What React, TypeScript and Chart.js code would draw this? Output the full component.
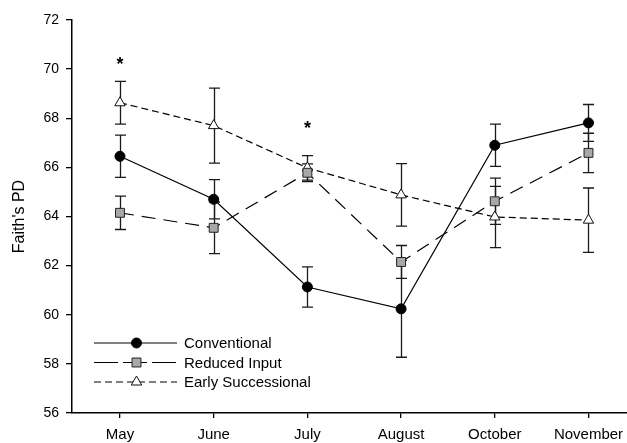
import { useEffect, useRef } from 'react';
import { Chart, registerables } from 'chart.js';

Chart.register(...registerables);

const months = ['May', 'June', 'July', 'August', 'October', 'November'];
const conventional = [66.45, 64.7, 61.13, 60.24, 66.9, 67.81];
const conventionalErr = [0.86, 0.8, 0.82, 1.97, 0.86, 0.75];
const reducedInput = [64.15, 63.54, 65.78, 62.15, 64.62, 66.59];
const reducedInputErr = [0.68, 1.05, 0.36, 0.67, 0.94, 0.8];
const earlySuccessional = [68.63, 67.7, 65.98, 64.88, 63.98, 63.85];
const earlySuccessionalErr = [0.87, 1.53, 0.5, 1.27, 1.25, 1.31];
const seriesNames = ['Conventional', 'Reduced Input', 'Early Successional'];
const yMin = 56;
const yMax = 72;
const yStep = 2;
const significantIdx = [0, 2];
const significantY = [70.28, 67.67];
const yTitle = "Faith's PD";

const FONT = '"Liberation Sans", Arial, Helvetica, sans-serif';

const errorBarPlugin = {
  id: 'errorBars',
  beforeDatasetsDraw(chart: any) {
    const ctx = chart.ctx;
    const ys = chart.scales.y;
    const xs = chart.scales.x;
    ctx.save();
    ctx.strokeStyle = '#1a1a1a';
    ctx.lineWidth = 1.3;
    ctx.setLineDash([]);
    chart.data.datasets.forEach((ds: any) => {
      ds.data.forEach((p: any, i: number) => {
        const e = ds.errors[i];
        const x = Math.round(xs.getPixelForValue(p.x)) + 0.5;
        const y1 = ys.getPixelForValue(p.y + e);
        const y2 = ys.getPixelForValue(p.y - e);
        ctx.beginPath();
        ctx.moveTo(x, y1);
        ctx.lineTo(x, y2);
        ctx.moveTo(x - 5.5, y1);
        ctx.lineTo(x + 5.5, y1);
        ctx.moveTo(x - 5.5, y2);
        ctx.lineTo(x + 5.5, y2);
        ctx.stroke();
      });
    });
    ctx.restore();
  },
};

function drawMarker(ctx: CanvasRenderingContext2D, style: string, r: number, x: number, y: number) {
  ctx.beginPath();
  if (style === 'circle') {
    ctx.arc(x, y, r, 0, Math.PI * 2);
  } else if (style === 'rect') {
    const s = Math.SQRT1_2 * r;
    ctx.rect(x - s, y - s, 2 * s, 2 * s);
  } else {
    const a = (Math.PI * 2) / 3;
    ctx.moveTo(x, y - r);
    ctx.lineTo(x + Math.sin(a) * r, y - Math.cos(a) * r);
    ctx.lineTo(x - Math.sin(a) * r, y - Math.cos(a) * r);
    ctx.closePath();
  }
  ctx.fill();
  ctx.stroke();
}

const decorPlugin = {
  id: 'decor',
  afterDraw(chart: any) {
    const ctx = chart.ctx;
    const ys = chart.scales.y;
    const xs = chart.scales.x;
    const area = chart.chartArea;
    ctx.save();
    // asterisks
    ctx.fillStyle = '#000';
    ctx.font = `bold 18px ${FONT}`;
    ctx.textAlign = 'center';
    ctx.textBaseline = 'middle';
    significantIdx.forEach((idx, k) => {
      ctx.fillText('*', xs.getPixelForValue(idx), ys.getPixelForValue(significantY[k]) + 3);
    });
    // y title
    ctx.save();
    ctx.translate(20, (area.top + area.bottom) / 2);
    ctx.rotate(-Math.PI / 2);
    ctx.font = `16px ${FONT}`;
    ctx.fillText(yTitle, 0, 0);
    ctx.restore();
    // legend
    const rows = [343, 362.5, 382];
    const x0 = 94;
    const x1 = 177;
    const mx = 136.5;
    chart.data.datasets.forEach((ds: any, i: number) => {
      const y = rows[i];
      ctx.save();
      ctx.strokeStyle = ds.borderColor;
      ctx.lineWidth = ds.borderWidth;
      ctx.setLineDash(ds.legendDash || []);
      ctx.beginPath();
      ctx.moveTo(x0, y);
      ctx.lineTo(x1, y);
      ctx.stroke();
      ctx.restore();
      ctx.save();
      ctx.fillStyle = ds.pointBackgroundColor;
      ctx.strokeStyle = ds.pointBorderColor;
      ctx.lineWidth = ds.pointBorderWidth;
      ctx.setLineDash([]);
      drawMarker(ctx, ds.pointStyle, ds.pointRadius, mx, y);
      ctx.restore();
      ctx.fillStyle = '#000';
      ctx.font = `15px ${FONT}`;
      ctx.textAlign = 'left';
      ctx.textBaseline = 'middle';
      ctx.fillText(seriesNames[i], 184, y + 1);
    });
    ctx.restore();
  },
};

export default function App() {
  const ref = useRef<HTMLCanvasElement | null>(null);
  useEffect(() => {
    if (!ref.current) return;
    const toPts = (arr: number[]) => arr.map((v, i) => ({ x: i, y: v }));
    const chart = new Chart(ref.current, {
      type: 'line',
      data: {
        datasets: [
          {
            label: seriesNames[0],
            data: toPts(conventional),
            errors: conventionalErr,
            borderColor: '#000',
            borderWidth: 1.2,
            pointStyle: 'circle',
            pointRadius: 5,
            pointBackgroundColor: '#000',
            pointBorderColor: '#000',
            pointBorderWidth: 1,
            legendDash: [],
          } as any,
          {
            label: seriesNames[1],
            data: toPts(reducedInput),
            errors: reducedInputErr,
            borderColor: '#000',
            borderWidth: 1.2,
            borderDash: [14, 8],
            pointStyle: 'rect',
            pointRadius: 6.3,
            pointBackgroundColor: '#a8a8a8',
            pointBorderColor: '#222',
            pointBorderWidth: 1,
            legendDash: [24, 5],
          } as any,
          {
            label: seriesNames[2],
            data: toPts(earlySuccessional),
            errors: earlySuccessionalErr,
            borderColor: '#000',
            borderWidth: 1.2,
            borderDash: [7, 4],
            pointStyle: 'triangle',
            pointRadius: 6,
            pointBackgroundColor: '#fff',
            pointBorderColor: '#111',
            pointBorderWidth: 1,
            legendDash: [7, 4],
          } as any,
        ],
      },
      options: {
        animation: false,
        responsive: false,
        devicePixelRatio: 1,
        layout: { padding: { top: 20, left: 0, right: 0, bottom: 0 }, autoPadding: false } as any,
        plugins: { legend: { display: false }, tooltip: { enabled: false } },
        scales: {
          x: {
            type: 'linear',
            min: -0.512,
            max: 5.411,
            afterBuildTicks: (s: any) => {
              s.ticks = months.map((_, i) => ({ value: i }));
            },
            afterFit: (s: any) => {
              s.height = 30;
              s.paddingLeft = 0;
              s.paddingRight = 0;
              s.paddingTop = 0;
              s.paddingBottom = 0;
            },
            ticks: {
              autoSkip: false,
              maxRotation: 0,
              padding: 8,
              color: '#000',
              font: { family: FONT, size: 15 },
              callback: (v: any) => months[v as number] ?? '',
            },
            grid: { drawOnChartArea: false, drawTicks: true, tickLength: 5, color: '#000', lineWidth: 1.3 },
            border: { color: '#000', width: 1.5 },
          },
          y: {
            min: yMin,
            max: yMax,
            afterFit: (s: any) => {
              s.width = 72;
              s.paddingTop = 0;
              s.paddingBottom = 0;
            },
            ticks: {
              stepSize: yStep,
              padding: 7,
              color: '#000',
              font: { family: FONT, size: 14 },
            },
            grid: { drawOnChartArea: false, drawTicks: true, tickLength: 6, color: '#000', lineWidth: 1.3 },
            border: { color: '#000', width: 1.5 },
          },
        },
      } as any,
      plugins: [errorBarPlugin, decorPlugin],
    });
    return () => chart.destroy();
  }, []);
  return (
    <div style={{ position: 'absolute', left: 0, top: 0, width: 627, height: 443, background: '#fff' }}>
      <canvas ref={ref} width={627} height={443} />
    </div>
  );
}
